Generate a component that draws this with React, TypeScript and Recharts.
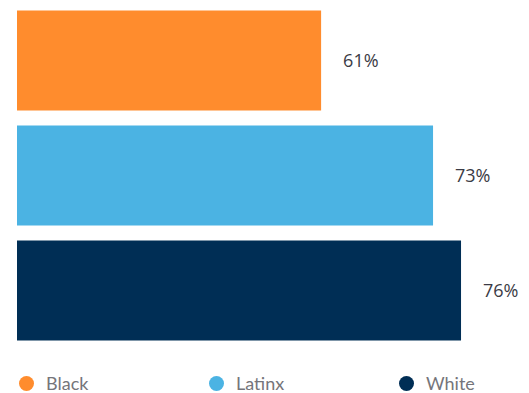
import React from 'react';
import { BarChart, Bar, XAxis, YAxis, Cell, LabelList } from 'recharts';

// Datos del gráfico
const grupos = ['Black', 'Latinx', 'White'];
const porcentajes = [61, 73, 76];
const colores = ['#FF8C2D', '#4BB3E3', '#002E55'];

const datos = grupos.map((grupo, i) => ({ grupo, valor: porcentajes[i] }));

const formatoPct = (v: any) => `${v}%`;

const App: React.FC = () => {
  return (
    <div style={{ position: 'absolute', left: 0, top: 0, width: 529, height: 393, background: '#fff' }}>
      <BarChart
        width={529}
        height={350}
        data={datos}
        layout="vertical"
        margin={{ top: 2.5, right: 12, bottom: 2.5, left: 17 }}
        barCategoryGap={15}
      >
        <XAxis type="number" domain={[28.4, 82]} hide allowDataOverflow />
        <YAxis type="category" dataKey="grupo" hide />
        <Bar dataKey="valor" barSize={100} isAnimationActive={false}>
          {datos.map((d, i) => (
            <Cell key={d.grupo} fill={colores[i]} />
          ))}
          <LabelList
            dataKey="valor"
            position="right"
            offset={22}
            formatter={formatoPct}
            style={{ fontFamily: 'Open Sans', fontSize: 18, fill: '#3b3b45' }}
          />
        </Bar>
      </BarChart>

      {/* Leyenda */}
      <div style={{ position: 'absolute', top: 371, left: 0, width: 529, height: 24 }}>
        {grupos.map((g, i) => (
          <div
            key={g}
            style={{
              position: 'absolute',
              left: [19, 209, 399][i],
              top: 0,
              display: 'flex',
              alignItems: 'center',
              fontFamily: 'Lato',
              fontSize: 18,
              color: '#75757a',
              lineHeight: '24px',
            }}
          >
            <span
              style={{
                display: 'inline-block',
                width: 15,
                height: 15,
                borderRadius: '50%',
                background: colores[i],
                marginRight: 12,
              }}
            />
            {g}
          </div>
        ))}
      </div>
    </div>
  );
};

export default App;
